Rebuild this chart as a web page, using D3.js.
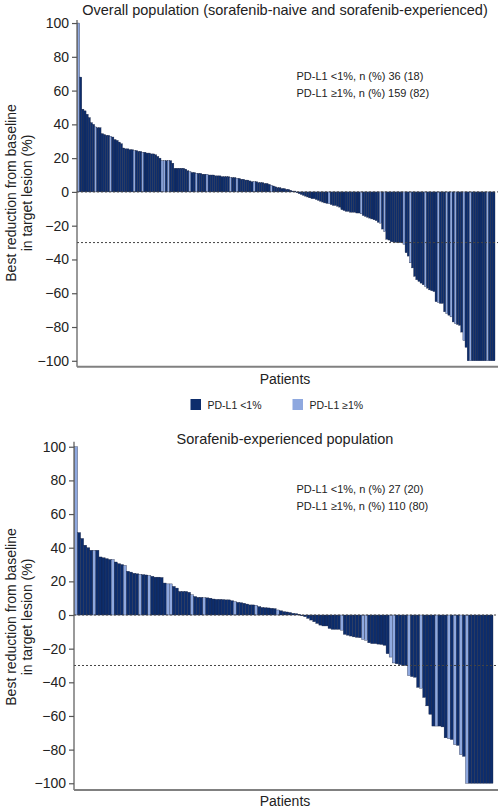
<!DOCTYPE html>
<html>
<head>
<meta charset="utf-8">
<script src="https://cdn.jsdelivr.net/npm/d3@7"></script>
<style>
  html, body { margin: 0; padding: 0; background: #fff; }
  svg { display: block; }
  text { font-family: "Liberation Sans", Arial, Helvetica, sans-serif; fill: #222; }
</style>
</head>
<body>
<svg id="chart" width="501" height="810"></svg>
<script>
// ---------------- DATA ----------------
const panelTitles = [
  "Overall population (sorafenib-naive and sorafenib-experienced)",
  "Sorafenib-experienced population"
];
const yTicks = [100, 80, 60, 40, 20, 0, -20, -40, -60, -80, -100];
const groups = ["PD-L1 <1%", "PD-L1 \u22651%"];

// Overall population: best change (%) per patient, sorted
const overallValues = [
  100, 68, 49, 48, 46, 44, 41, 40, 38.5, 38, 38, 34.5, 34, 33.5, 33.5, 33, 32.5, 31, 30.5, 29.5,
  28.5, 26, 25.5, 25.5, 25, 25, 24.5, 24.5, 24, 24, 23.5, 23.5, 23, 23, 22.5, 22.5, 22, 21, 20, 18.5,
  18.5, 18.5, 18.5, 18.5, 17, 14, 14, 14, 14, 14, 13.5, 12.5, 12, 11.5, 11.5, 11, 11, 11, 10.5, 10.5,
  10.5, 10, 10, 10, 9.5, 9.5, 9.5, 9, 9, 9, 9, 8.5, 8.5, 8.5, 8, 8, 7.5, 7.5, 7, 7,
  6.5, 6, 6, 6, 5.5, 5.5, 5.5, 5, 5, 4.5, 4, 3.5, 3, 2.5, 2.5, 2, 2, 1.5, 1.5, 1,
  0.5, 0.5, -0.5, -1, -1.5, -2, -2.5, -3, -3.5, -4, -4, -4.5, -5, -5.5, -6, -6.5, -6.8, -7, -7.5, -8,
  -8, -8.5, -9, -10.5, -11, -11.5, -11.5, -12, -12, -12, -12.5, -12.5, -13, -14, -14.5, -15, -15.5, -16, -16.5, -17,
  -18, -18.5, -22, -23.5, -28, -28.5, -29.5, -29.6, -29.8, -30, -30, -30, -31, -36, -38, -42, -45, -50, -52, -53,
  -54, -55, -56, -57, -58, -58.5, -59, -65, -65.5, -66, -66, -71, -72, -73, -74, -77, -78, -78.5, -79, -83,
  -88, -92, -100, -100, -100, -100, -100, -100, -100, -100, -100, -100, -100, -100, -100
];
// positions (0-based patient order) of PD-L1 >=1% bars, overall population
const overallHighIdx = [0, 8, 15, 26, 30, 39, 40, 42, 52, 55, 60, 71, 74, 82, 90,
  117, 132, 141, 143, 152, 155, 162, 168, 172, 174, 176, 180, 183, 191];

// Sorafenib-experienced population
const experiencedValues = [
  100, 49, 45.5, 41.5, 40, 38.5, 38.5, 38.5, 34.5, 34, 33.5, 33, 33, 31.5, 30.5, 30, 29.5, 26, 25.5, 24.8,
  24.5, 24.2, 24, 23.8, 23.5, 23, 22.5, 22.5, 22.3, 19, 18.5, 18.5, 17, 16, 14, 14, 14, 13.5, 12, 11,
  10.5, 10.5, 10.3, 10.2, 10, 9.5, 9.3, 9.3, 9.2, 9, 9, 8.5, 8, 7.5, 7.3, 7, 6.5, 6, 6, 5.8,
  5, 4.5, 4.3, 4.2, 4, 3.8, 3, 2.5, 2, 1.8, 1.5, 1, 0.8, 0.5, -0.5, -1, -2, -3, -4, -5,
  -6, -6.5, -6.5, -8, -8.5, -8.5, -8.5, -9, -11.5, -12, -12.5, -13, -13.3, -13.5, -14.5, -15, -16.5, -17, -17, -17.3,
  -17.5, -18, -23, -25, -28.5, -29, -29.5, -30, -30, -36, -36.6, -37, -43, -43.5, -49, -54, -59, -66, -66, -66,
  -66.5, -73, -73.5, -74, -77, -77.5, -83, -84, -100, -100, -100, -100, -100, -100, -100, -100, -100
];
const experiencedHighIdx = [0, 6, 12, 16, 21, 24, 30, 31, 38, 42, 52, 59, 66,
  87, 94, 95, 103, 104, 109, 113, 118, 122, 124, 126, 128];

const annotations = [
  ["PD-L1 <1%, n (%) 36 (18)", "PD-L1 \u22651%, n (%) 159 (82)"],
  ["PD-L1 <1%, n (%) 27 (20)", "PD-L1 \u22651%, n (%) 110 (80)"]
];

// ---------------- STYLE / LAYOUT ----------------
const colorScale = d3.scaleOrdinal().domain(groups).range(["#0d2d6c", "#8ea8df"]);
const svg = d3.select("#chart");

const panels = [
  { values: overallValues, high: overallHighIdx, title: panelTitles[0], notes: annotations[0],
    x0: 77, x1: 495, lineEnd: 498, yTop: 20, yBot: 366.7, dom: [-103.5, 101.8],
    titleY: 15, labelCY: 193, notesY: 80, patientsY: 384 },
  { values: experiencedValues, high: experiencedHighIdx, title: panelTitles[1], notes: annotations[1],
    x0: 74, x1: 493, lineEnd: 498, yTop: 441.7, yBot: 790, dom: [-104, 103],
    titleY: 444, labelCY: 617, notesY: 493, patientsY: 806 }
];

panels.forEach(p => {
  const n = p.values.length;
  const highSet = new Set(p.high);
  const data = p.values.map((v, i) => ({ i, v, g: highSet.has(i) ? groups[1] : groups[0] }));

  const x = d3.scaleBand().domain(d3.range(n)).range([p.x0 + 0.5, p.x1]).paddingInner(0).paddingOuter(0);
  const y = d3.scaleLinear().domain(p.dom).range([p.yBot, p.yTop]);

  const g = svg.append("g");

  // bars
  g.append("g").selectAll("rect").data(data).join("rect")
    .attr("x", d => x(d.i))
    .attr("width", x.bandwidth())
    .attr("y", d => Math.min(y(0), y(d.v)))
    .attr("height", d => Math.abs(y(d.v) - y(0)))
    .attr("fill", d => colorScale(d.g))
    .attr("stroke", "#1b2440")
    .attr("stroke-width", 0.35);

  // reference lines (0 and -30)
  [0, -30].forEach(r => {
    g.append("line")
      .attr("x1", p.x0).attr("x2", p.lineEnd)
      .attr("y1", y(r)).attr("y2", y(r))
      .attr("stroke", "#444").attr("stroke-width", 1)
      .attr("stroke-dasharray", "2,2");
  });

  // y axis
  const yAxis = d3.axisLeft(y).tickValues(yTicks).tickSize(5).tickPadding(3)
    .tickFormat(d => d3.format("d")(d).replace("-", "\u2212"));
  const ya = g.append("g").attr("transform", `translate(${p.x0},0)`).call(yAxis);
  ya.select(".domain").attr("stroke", "#555").attr("stroke-width", 1.2)
    .attr("d", `M-0,${p.yTop}V${p.yBot}`);
  ya.selectAll(".tick line").attr("stroke", "#555").attr("stroke-width", 1.2);
  ya.selectAll(".tick text").style("font-size", "14px").attr("fill", "#222")
    .style("font-family", "'Liberation Sans', Arial, sans-serif");

  // x axis line (no ticks)
  g.append("line").attr("x1", p.x0).attr("x2", p.lineEnd)
    .attr("y1", p.yBot).attr("y2", p.yBot)
    .attr("stroke", "#808080").attr("stroke-width", 2);

  // title
  g.append("text").attr("x", 285).attr("y", p.titleY).attr("text-anchor", "middle")
    .style("font-size", "14.5px").text(p.title);

  // y label
  const lab = g.append("text").attr("transform", `translate(0,${p.labelCY}) rotate(-90)`)
    .attr("text-anchor", "middle").style("font-size", "14px");
  lab.append("tspan").attr("x", 0).attr("y", 16).text("Best reduction from baseline");
  lab.append("tspan").attr("x", 0).attr("y", 32).text("in target lesion (%)");

  // annotation
  p.notes.forEach((t, k) => {
    g.append("text").attr("x", 296.5).attr("y", p.notesY + k * 17)
      .style("font-size", "11px").text(t);
  });

  // x label
  g.append("text").attr("x", 285).attr("y", p.patientsY).attr("text-anchor", "middle")
    .style("font-size", "14px").text("Patients");
});

// legend
const legend = svg.append("g");
const legendX = [190.5, 292.5];
groups.forEach((gname, k) => {
  legend.append("rect").attr("x", legendX[k]).attr("y", 399).attr("width", 10.5).attr("height", 11)
    .attr("fill", colorScale(gname));
  legend.append("text").attr("x", legendX[k] + 17).attr("y", 409)
    .style("font-size", "10.5px").text(gname);
});
</script>
</body>
</html>
